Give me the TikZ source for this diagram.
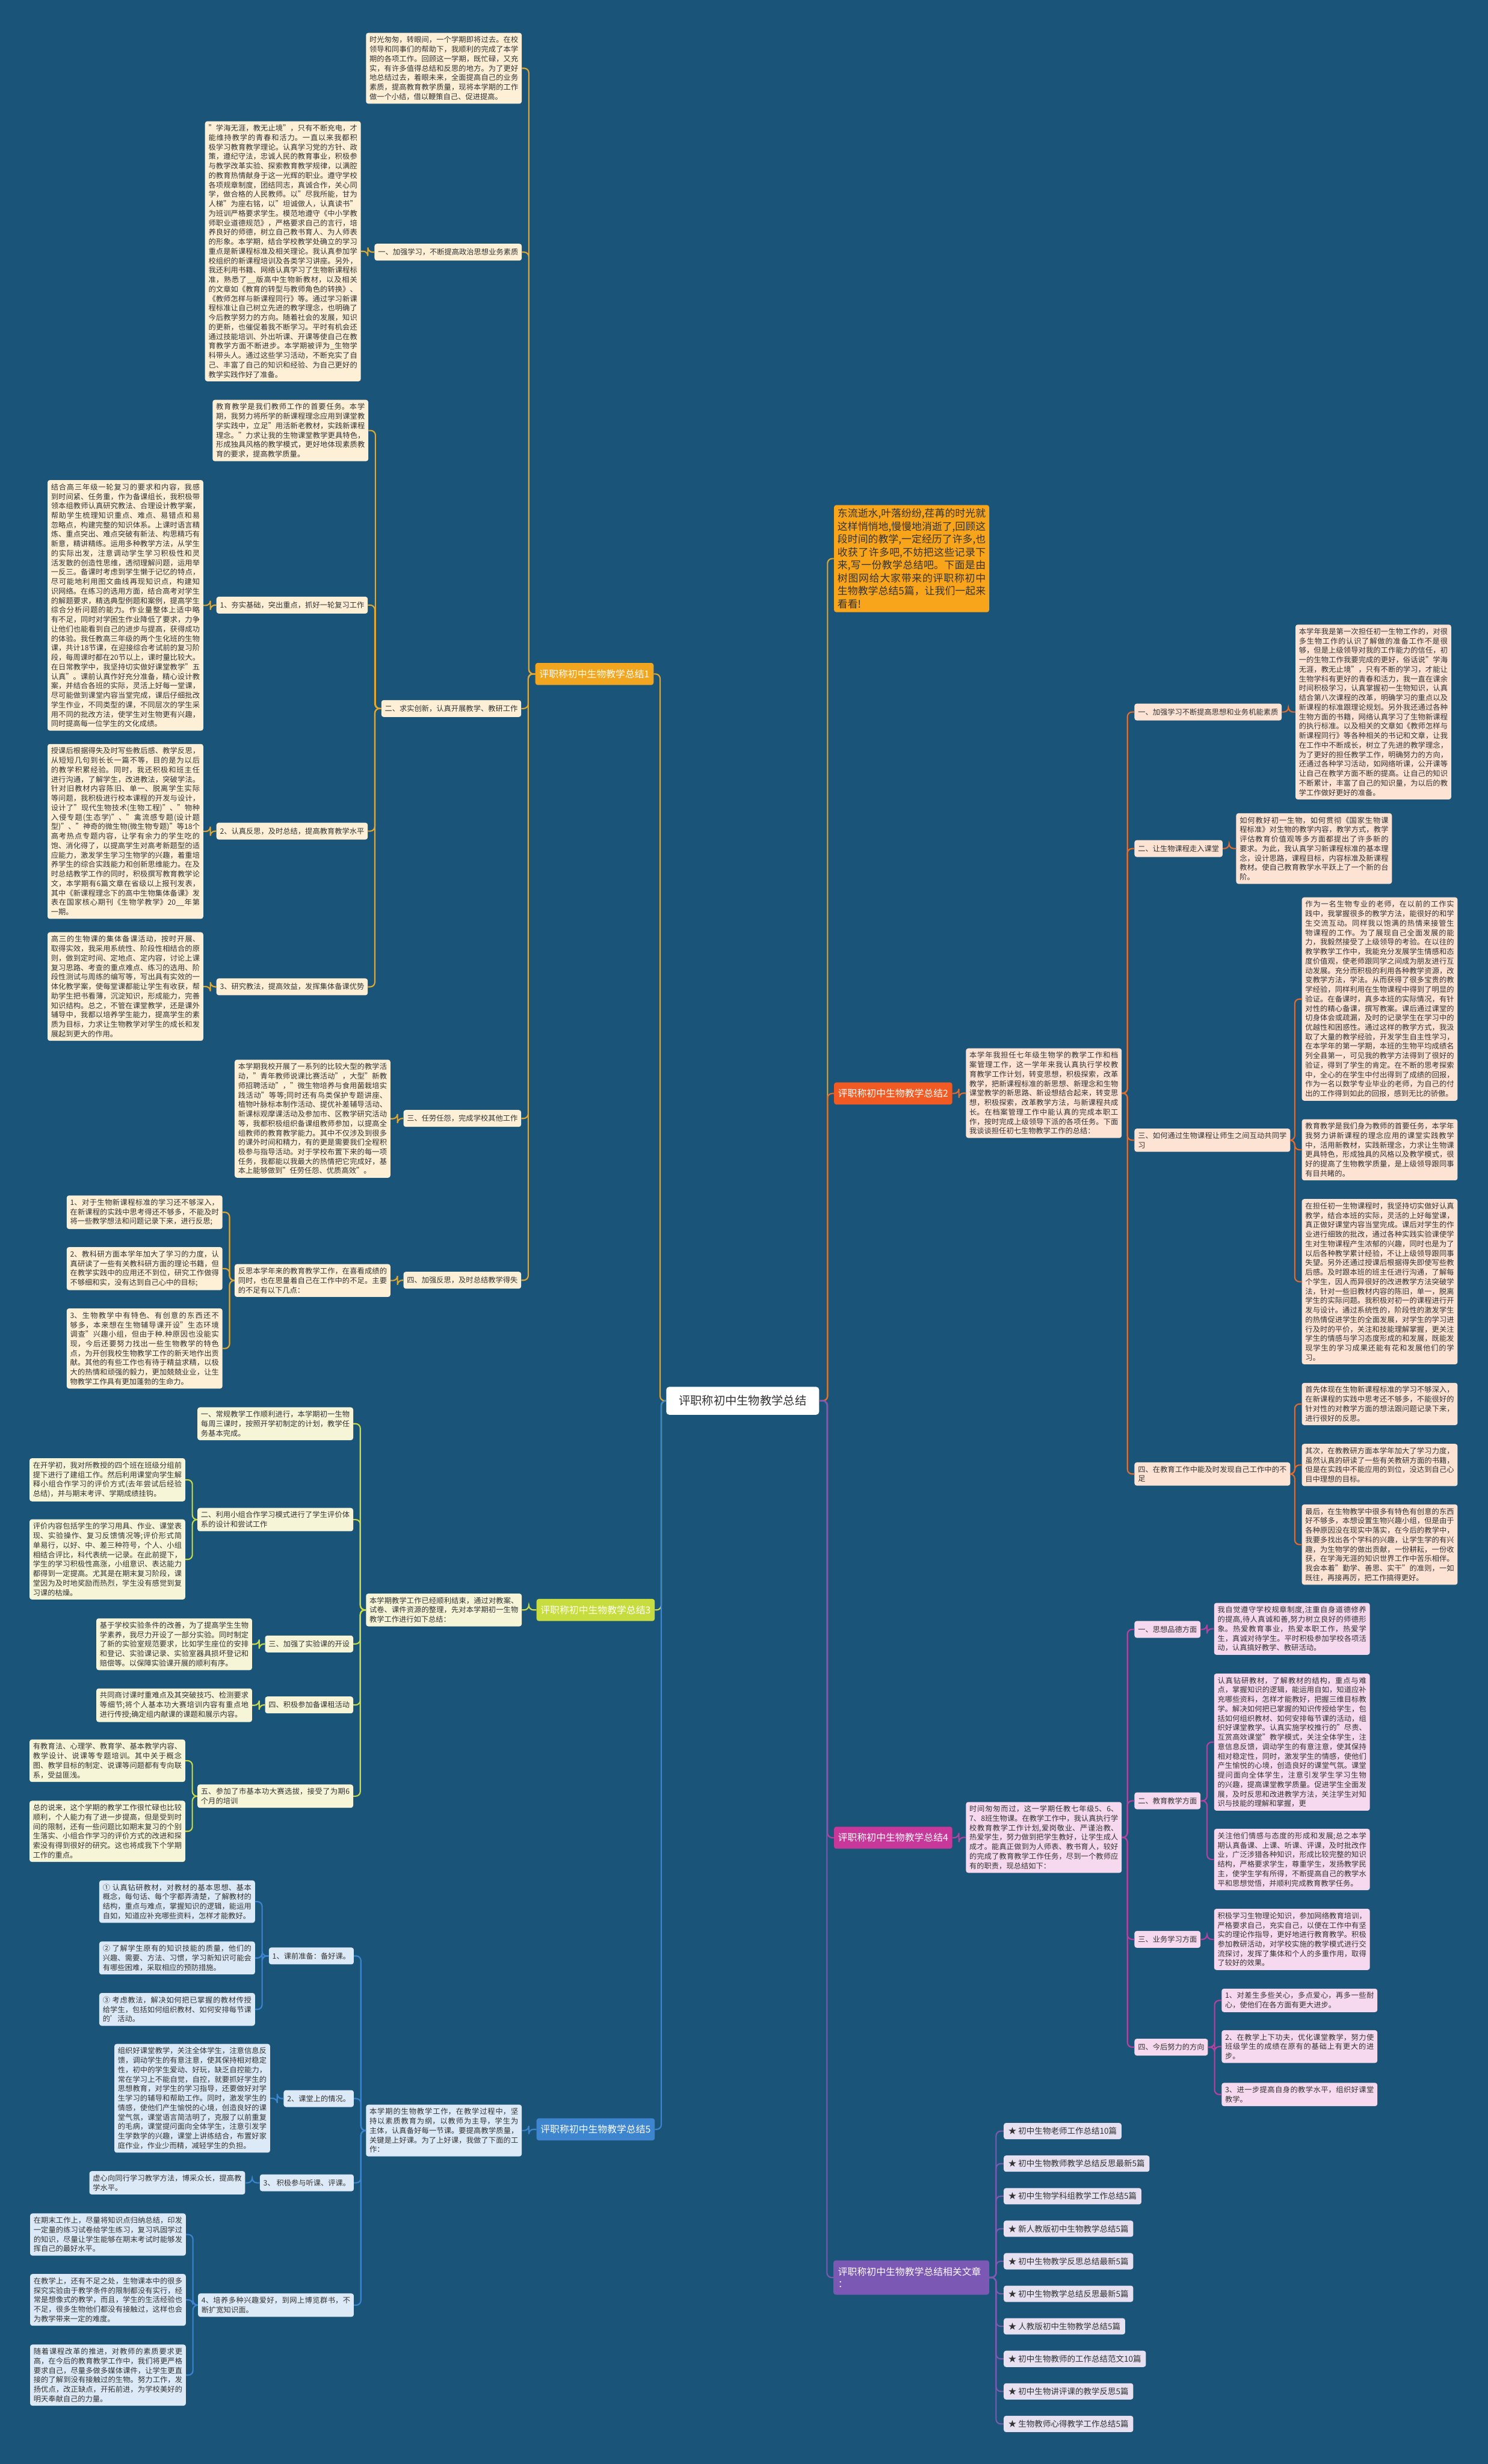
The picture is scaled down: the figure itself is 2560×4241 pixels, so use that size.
\documentclass[tikz,border=0pt]{standalone}
\usepackage{fontspec}
\setmainfont{Noto Sans CJK SC}
\XeTeXlinebreaklocale "zh"
\XeTeXlinebreakskip = 0pt plus 1pt
\XeTeXinterchartokenstate=1
\XeTeXinterchartoks 1 3 = {\hskip 0pt plus 1pt\relax}
\XeTeXinterchartoks 0 3 = {\hskip 0pt plus 1pt\relax}
\tolerance=9000
\emergencystretch=4pt
\usetikzlibrary{calc}

\definecolor{bgblue}{HTML}{1A5479}
\definecolor{ink}{HTML}{333333}
\definecolor{goldline}{HTML}{E2A72E}
\definecolor{goldfill}{HTML}{FDF0D6}
\definecolor{goldnode}{HTML}{F2A51F}
\definecolor{introfill}{HTML}{F8A51C}
\definecolor{orline}{HTML}{E46B2B}
\definecolor{orfill}{HTML}{FDE3D4}
\definecolor{ornode}{HTML}{F15A22}
\definecolor{limeline}{HTML}{C9DC45}
\definecolor{limefill}{HTML}{F6F5D8}
\definecolor{limenode}{HTML}{C7DD3F}
\definecolor{pinkline}{HTML}{B6419E}
\definecolor{pinkfill}{HTML}{F6D9EE}
\definecolor{pinknode}{HTML}{C8389A}
\definecolor{blueline}{HTML}{3D85CE}
\definecolor{bluefill}{HTML}{DCE9F6}
\definecolor{bluenode}{HTML}{3D85CE}
\definecolor{lilacline}{HTML}{7A5BB0}
\definecolor{lilacfill}{HTML}{E6E0F1}
\definecolor{lilacnode}{HTML}{7B58B3}

\newcommand{\cardfont}{\fontsize{12.7}{16.3}\selectfont}
\newcommand{\branchfont}{\fontsize{16.4}{21}\selectfont}
\newcommand{\introfont}{\fontsize{17.5}{22.3}\selectfont}
\newcommand{\rootfont}{\fontsize{20}{24}\selectfont}
\newcommand{\itemfont}{\fontsize{14}{17}\selectfont}

\tikzset{
  card/.style={rounded corners=4pt, inner xsep=6pt, inner ysep=6pt, align=left,
    font=\cardfont, text=ink, minimum height=29pt},
  wire/.style={line width=2.2pt, rounded corners=8pt},
  brnode/.style={rounded corners=4pt, font=\branchfont, text=white, inner xsep=7pt,
    minimum height=38pt, anchor=west},
  goldbox/.style={card, fill=goldfill, anchor=east},
  goldpara/.style={goldbox, text width=256pt, align=justify},
  goldwire/.style={wire, draw=goldline},
  limebox/.style={card, fill=limefill, anchor=east},
  limepara/.style={limebox, text width=256pt, align=justify},
  limewire/.style={wire, draw=limeline},
  bluebox/.style={card, fill=bluefill, anchor=east},
  bluepara/.style={bluebox, text width=256pt, align=justify},
  bluewire/.style={wire, draw=blueline},
  orbox/.style={card, fill=orfill, anchor=west},
  orpara/.style={orbox, text width=256pt, align=justify},
  orwire/.style={wire, draw=orline},
  pinkbox/.style={card, fill=pinkfill, anchor=west},
  pinkpara/.style={pinkbox, text width=256pt, align=justify},
  pinkwire/.style={wire, draw=pinkline},
  lilacbox/.style={card, fill=lilacfill, anchor=west, font=\itemfont, inner xsep=8pt, minimum height=28pt},
  lilacwire/.style={wire, draw=lilacline}
}

\begin{document}
\begin{tikzpicture}[x=1pt, y=-1pt]
\fill[bgblue] (0,0) rectangle (2560,4241);
\useasboundingbox (0,0) rectangle (2560,4241);

% root
\node[fill=white, rounded corners=5pt, font=\rootfont, text=ink, minimum width=263pt, minimum height=48pt] (root) at (1278,2411) {评职称初中生物教学总结};

% branch nodes
\node[brnode, fill=goldnode] (br1) at (921,1160) {评职称初中生物教学总结1};
\node[brnode, fill=limenode] (br3) at (923,2771) {评职称初中生物教学总结3};
\node[brnode, fill=bluenode] (br5) at (923,3665) {评职称初中生物教学总结5};
\node[brnode, fill=ornode] (br2) at (1435,1882) {评职称初中生物教学总结2};
\node[brnode, fill=pinknode] (br4) at (1435,3163) {评职称初中生物教学总结4};
\node[brnode, fill=lilacnode, text width=252pt, inner xsep=8pt, minimum height=59pt, align=left] (br6) at (1434,3920) {评职称初中生物教学总结相关文章\\：};
\node[card, fill=introfill, anchor=west, font=\introfont, text width=255pt, align=justify] (intro) at (1435,961.5) {东流逝水,叶落纷纷,荏苒的时光就这样悄悄地,慢慢地消逝了,回顾这段时间的教学,一定经历了许多,也收获了许多吧,不妨把这些记录下来,写一份教学总结吧。下面是由树图网给大家带来的评职称初中生物教学总结5篇，让我们一起来看看!};

% branch 1
\node[goldpara] (g0) at (898,117.5) {时光匆匆，转眼间，一个学期即将过去。在校领导和同事们的帮助下，我顺利的完成了本学期的各项工作。回顾这一学期，既忙碌，又充实，有许多值得总结和反思的地方。为了更好地总结过去，着眼未来，全面提高自己的业务素质，提高教育教学质量，现将本学期的工作做一个小结，借以鞭策自己、促进提高。};
\node[goldbox] (g1) at (898,434) {一、加强学习，不断提高政治思想业务素质};
\node[goldpara] (g1a) at (621,432.5) {"学海无涯，教无止境"，只有不断充电，才能维持教学的青春和活力。一直以来我都积极学习教育教学理论。认真学习党的方针、政策，遵纪守法，忠诚人民的教育事业，积极参与教学改革实验、探索教育教学规律，以满腔的教育热情献身于这一光辉的职业。遵守学校各项规章制度，团结同志，真诚合作，关心同学，做合格的人民教师。以"尽我所能，甘为人梯"为座右铭，以"坦诚做人，认真读书"为班训严格要求学生。模范地遵守《中小学教师职业道德规范》，严格要求自己的言行，培养良好的师德，树立自己教书育人、为人师表的形象。本学期，结合学校教学处确立的学习重点是新课程标准及相关理论。我认真参加学校组织的新课程培训及各类学习讲座。另外，我还利用书籍、网络认真学习了生物新课程标准，熟悉了\_\_版高中生物新教材，以及相关的文章如《教育的转型与教师角色的转换》、《教师怎样与新课程同行》等。通过学习新课程标准让自己树立先进的教学理念，也明确了今后教学努力的方向。随着社会的发展，知识的更新，也催促着我不断学习。平时有机会还通过技能培训、外出听课、开课等使自己在教育教学方面不断进步。本学期被评为\_生物学科带头人。通过这些学习活动，不断充实了自己、丰富了自己的知识和经验、为自己更好的教学实践作好了准备。};
\node[goldbox] (g2) at (897,1219.5) {二、求实创新，认真开展教学、教研工作};
\node[goldpara] (g2a) at (634,741) {教育教学是我们教师工作的首要任务。本学期，我努力将所学的新课程理念应用到课堂教学实践中，立足"用活新老教材，实践新课程理念。"力求让我的生物课堂教学更具特色，形成独具风格的教学模式，更好地体现素质教育的要求，提高教学质量。};
\node[goldbox] (g21) at (633,1041.5) {1、夯实基础，突出重点，抓好一轮复习工作};
\node[goldpara] (g21a) at (350,1042) {结合高三年级一轮复习的要求和内容，我感到时间紧、任务重，作为备课组长，我积极带领本组教师认真研究教法、合理设计教学案，帮助学生梳理知识重点、难点、易错点和易忽略点，构建完整的知识体系。上课时语言精炼、重点突出、难点突破有新法、构思精巧有新意，精讲精练。运用多种教学方法，从学生的实际出发，注意调动学生学习积极性和灵活发散的创造性思维，透彻理解问题，运用举一反三。备课时考虑到学生懒于记忆的特点，尽可能地利用图文曲线再现知识点，构建知识网络。在练习的选用方面，结合高考对学生的解题要求，精选典型例题和案例，提高学生综合分析问题的能力。作业量整体上适中略有不足，同时对学困生作业降低了要求，力争让他们也能看到自己的进步与提高，获得成功的体验。我任教高三年级的两个生化班的生物课，共计18节课，在迎接综合考试前的复习阶段，每周课时都在20节以上，课时量比较大。在日常教学中，我坚持切实做好课堂教学"五认真"。课前认真作好充分准备，精心设计教案，并结合各班的实际，灵活上好每一堂课，尽可能做到课堂内容当堂完成，课后仔细批改学生作业，不同类型的课，不同层次的学生采用不同的批改方法，使学生对生物更有兴趣，同时提高每一位学生的文化成绩。};
\node[goldbox] (g22) at (633,1430.5) {2、认真反思，及时总结，提高教育教学水平};
\node[goldpara] (g22a) at (350,1431) {授课后根据得失及时写些教后感、教学反思，从短短几句到长长一篇不等，目的是为以后的教学积累经验。同时，我还积极和班主任进行沟通，了解学生，改进教法，突破学法。针对旧教材内容陈旧、单一、脱离学生实际等问题，我积极进行校本课程的开发与设计，设计了"现代生物技术(生物工程)"、"物种入侵专题(生态学)"、"禽流感专题(设计题型)"、"神奇的微生物(微生物专题)"等18个高考热点专题内容，让学有余力的学生吃的饱、消化得了，以提高学生对高考新题型的适应能力，激发学生学习生物学的兴趣，着重培养学生的综合实践能力和创新思维能力。在及时总结教学工作的同时，积极撰写教育教学论文，本学期有6篇文章在省级以上报刊发表，其中《新课程理念下的高中生物集体备课》发表在国家核心期刊《生物学教学》20\_\_年第一期。};
\node[goldbox] (g23) at (633,1698.5) {3、研究教法，提高效益，发挥集体备课优势};
\node[goldpara] (g23a) at (350,1698) {高三的生物课的集体备课活动，按时开展、取得实效，我采用系统性、阶段性相结合的原则，做到定时间、定地点、定内容，讨论上课复习思路、考查的重点难点、练习的选用、阶段性测试与周练的编写等，写出具有实效的一体化教学案，使每堂课都能让学生有收获，帮助学生把书看薄，沉淀知识，形成能力，完善知识结构。总之，不管在课堂教学，还是课外辅导中，我都以培养学生能力，提高学生的素质为目标，力求让生物教学对学生的成长和发展起到更大的作用。};
\node[goldbox] (g3) at (897,1925) {三、任劳任怨，完成学校其他工作};
\node[goldpara] (g3a) at (672,1925.5) {本学期我校开展了一系列的比较大型的教学活动，"青年教师说课比赛活动"，大型"新教师招聘活动"，"微生物培养与食用菌栽培实践活动"等等;同时还有鸟类保护专题讲座、植物叶脉标本制作活动、提优补差辅导活动、新课标观摩课活动及参加市、区教学研究活动等，我都积极组织备课组教师参加，以提高全组教师的教育教学能力。其中不仅涉及到很多的课外时间和精力，有的更是需要我们全程积极参与指导活动。对于学校布置下来的每一项任务，我都能以我最大的热情把它完成好，基本上能够做到"任劳任怨、优质高效"。};
\node[goldbox] (g4) at (897,2203.5) {四、加强反思，及时总结教学得失};
\node[goldpara] (g4a) at (672,2204) {反思本学年来的教育教学工作，在喜看成绩的同时，也在思量着自己在工作中的不足。主要的不足有以下几点：};
\node[goldpara] (g4a1) at (383,2086.5) {1、对于生物新课程标准的学习还不够深入，在新课程的实践中思考得还不够多，不能及时将一些教学想法和问题记录下来，进行反思;};
\node[goldpara] (g4a2) at (383,2183.5) {2、教科研方面本学年加大了学习的力度，认真研读了一些有关教科研方面的理论书籍，但在教学实践中的应用还不到位，研究工作做得不够细和实，没有达到自己心中的目标;};
\node[goldpara] (g4a3) at (383,2321) {3、生物教学中有特色、有创意的东西还不够多，本来想在生物辅导课开设"生态环境调查"兴趣小组，但由于种.种原因也没能实现，今后还要努力找出一些生物教学的特色点，为开创我校生物教学工作的新天地作出贡献。其他的有些工作也有待于精益求精，以极大的热情和顽强的毅力，更加兢兢业业，让生物教学工作具有更加蓬勃的生命力。};

% branch 3
\node[limepara] (t0) at (898,2771) {本学期教学工作已经顺利结束，通过对教案、试卷、课件资源的整理，先对本学期初一生物教学工作进行如下总结：};
\node[limepara] (t1) at (608,2450.5) {一、常规教学工作顺利进行，本学期初一生物每周三课时，按照开学初制定的计划，教学任务基本完成。};
\node[limepara] (t2) at (608,2615.5) {二、利用小组合作学习模式进行了学生评价体系的设计和尝试工作};
\node[limepara] (t2a) at (319,2547) {在开学初，我对所教授的四个班在班级分组前提下进行了建组工作。然后利用课堂向学生解释小组合作学习的评价方式(去年尝试后经验总结)，并与期末考评、学期成绩挂钩。};
\node[limepara] (t2b) at (319,2684) {评价内容包括学生的学习用具、作业、课堂表现、实验操作、复习反馈情况等;评价形式简单易行，以好、中、差三种符号，个人、小组相结合评比，科代表统一记录。在此前提下，学生的学习积极性高涨，小组意识、表达能力都得到一定提高。尤其是在期末复习阶段，课堂因为及时地奖励而热烈，学生没有感觉到复习课的枯燥。};
\node[limebox] (t3) at (608,2829.5) {三、加强了实验课的开设};
\node[limepara] (t3a) at (434,2830) {基于学校实验条件的改善，为了提高学生生物学素养，我尽力开设了一部分实验。同时制定了新的实验室规范要求，比如学生座位的安排和登记、实验课记录、实验室器具损坏登记和赔偿等。以保障实验课开展的顺利有序。};
\node[limebox] (t4) at (608,2934.5) {四、积极参加备课租活动};
\node[limepara] (t4a) at (434,2935) {共同商讨课时重难点及其突破技巧、检测要求等细节;将个人基本功大赛培训内容有重点地进行传授;确定组内献课的课题和展示内容。};
\node[limepara] (t5) at (608,3091.5) {五、参加了市基本功大赛选拔，接受了为期6个月的培训};
\node[limepara] (t5a) at (319,3030.5) {有教育法、心理学、教育学、基本教学内容、教学设计、说课等专题培训。其中关于概念图、教学目标的制定、说课等问题都有专向联系，受益匪浅。};
\node[limepara] (t5b) at (319,3152) {总的说来，这个学期的教学工作很忙碌也比较顺利，个人能力有了进一步提高，但是受到时间的限制，还有一些问题比如期末复习的个别生落实、小组合作学习的评价方式的改进和探索没有得到很好的研究。这也将成我下个学期工作的重点。};

% branch 5
\node[bluepara] (u0) at (898,3667) {本学期的生物教学工作，在教学过程中，坚持以素质教育为纲，以教师为主导，学生为主体，认真备好每一节课。要提高教学质量，关键是上好课。为了上好课，我做了下面的工作：};
\node[bluebox] (u1) at (609,3366.5) {1、课前准备：备好课。};
\node[bluepara] (u1a) at (439,3273) {① 认真钻研教材，对教材的基本思想、基本概念，每句话、每个字都弄清楚，了解教材的结构，重点与难点，掌握知识的逻辑，能运用自如，知道应补充哪些资料，怎样才能教好。};
\node[bluepara] (u1b) at (439,3370) {② 了解学生原有的知识技能的质量，他们的兴趣、需要、方法、习惯，学习新知识可能会有哪些困难，采取相应的预防措施。};
\node[bluepara] (u1c) at (439,3458.5) {③ 考虑教法，解决如何把已掌握的教材传授给学生，包括如何组织教材、如何安排每节课的'活动。};
\node[bluebox] (u2) at (609,3612) {2、课堂上的情况。};
\node[bluepara] (u2a) at (465,3611.5) {组织好课堂教学，关注全体学生，注意信息反馈，调动学生的有意注意，使其保持相对稳定性，初中的学生爱动、好玩，缺乏自控能力，常在学习上不能自觉，自控，就要抓好学生的思想教育，对学生的学习指导，还要做好对学生学习的辅导和帮助工作。同时，激发学生的情感，使他们产生愉悦的心境，创造良好的课堂气氛，课堂语言简洁明了，克服了以前重复的毛病，课堂提问面向全体学生，注意引发学生学数学的兴趣，课堂上讲练结合，布置好家庭作业，作业少而精，减轻学生的负担。};
\node[bluebox] (u3) at (609,3757) {3、 积极参与听课、评课。};
\node[bluepara] (u3a) at (422,3757) {虚心向同行学习教学方法，博采众长，提高教学水平。};
\node[bluepara] (u4) at (609,3967.5) {4、培养多种兴趣爱好，到网上博览群书，不断扩宽知识面。};
\node[bluepara] (u4a) at (320,3846) {在期末工作上，尽量将知识点归纳总结，印发一定量的练习试卷给学生练习，复习巩固学过的知识，尽量让学生能够在期末考试时能够发挥自己的最好水平。};
\node[bluepara] (u4b) at (320,3958.5) {在教学上，还有不足之处，生物课本中的很多探究实验由于教学条件的限制都没有实行，经常是想像式的教学，而且，学生的生活经验也不足，很多生物他们都没有接触过，这样也会为教学带来一定的难度。};
\node[bluepara] (u4c) at (320,4088) {随着课程改革的推进，对教师的素质要求更高，在今后的教育教学工作中，我们将更严格要求自己，尽量多做多媒体课件，让学生更直接的了解到没有接触过的生物。努力工作，发扬优点，改正缺点，开拓前进，为学校美好的明天奉献自己的力量。};

% branch 2
\node[orpara] (o0) at (1662,1881.5) {本学年我担任七年级生物学的教学工作和档案管理工作，这一学年来我认真执行学校教育教学工作计划，转变思想，积极探索，改革教学，把新课程标准的新思想、新理念和生物课堂教学的新思路、新设想结合起来，转变思想，积极探索，改革教学方法，与新课程共成长。在档案管理工作中能认真的完成本职工作，按时完成上级领导下派的各项任务。下面我谈谈担任初七生物教学工作的总结：};
\node[orbox] (o1) at (1952,1225.5) {一、加强学习不断提高思想和业务机能素质};
\node[orpara] (o1a) at (2229,1225.5) {本学年我是第一次担任初一生物工作的，对很多生物工作的认识了解做的准备工作不是很够，但是上级领导对我的工作能力的信任，初一的生物工作我要完成的更好，俗话说"学海无涯，教无止境"，只有不断的学习，才能让生物学科有更好的青春和活力，我一直在课余时间积极学习，认真掌握初一生物知识，认真结合第八次课程的改革，明确学习的重点以及新课程的标准跟理论规划。另外我还通过各种生物方面的书籍，网络认真学习了生物新课程的执行标准。以及相关的文章如《教师怎样与新课程同行》等各种相关的书记和文章，让我在工作中不断成长，树立了先进的教学理念，为了更好的担任教学工作，明确努力的方向，还通过各种学习活动，如网络听课，公开课等让自己在教学方面不断的提高。让自己的知识不断累计，丰富了自己的知识量，为以后的教学工作做好更好的准备。};
\node[orbox] (o2) at (1952,1460.5) {二、让生物课程走入课堂};
\node[orpara] (o2a) at (2127,1460.5) {如何教好初一生物，如何贯彻《国家生物课程标准》对生物的教学内容，教学方式，教学评估教育价值观等多方面都提出了许多新的要求。为此，我认真学习新课程标准的基本理念，设计思路，课程目标，内容标准及新课程教材。使自己教育教学水平跃上了一个新的台阶。};
\node[orpara] (o3) at (1952,1962.5) {三、如何通过生物课程让师生之间互动共同学习};
\node[orpara] (o3a) at (2240,1719.5) {作为一名生物专业的老师，在以前的工作实践中，我掌握很多的教学方法，能很好的和学生交流互动。同样我以饱满的热情来接管生物课程的工作。为了展现自己全面发展的能力，我毅然接受了上级领导的考验。在以往的教学教学工作中，我能充分发展学生情感和态度价值观，使老师跟同学之间成为朋友进行互动发展。充分而积极的利用各种教学资源，改变教学方法，学法。从而获得了很多宝贵的教学经验，同样利用在生物课程中得到了明显的验证。在备课时，真多本班的实际情况，有针对性的精心备课，撰写教案。课后通过课堂的切身体会或疏漏，及时的记录学生在学习中的优越性和困惑性。通过这样的教学方式，我汲取了大量的教学经验，开发学生自主性学习，在本学年的第一学期，本班的生物平均成绩名列全县第一，可见我的教学方法得到了很好的验证，得到了学生的肯定。在不断的思考探索中，全心的在学生中付出得到了成绩的回报，作为一名以数学专业毕业的老师，为自己的付出的工作得到如此的回报，感到无比的骄傲。};
\node[orpara] (o3b) at (2240,1979) {教育教学是我们身为教师的首要任务，本学年我努力讲新课程的理念应用的课堂实践教学中，活用新教材，实践新理念，力求让生物课更具特色，形成独具的风格以及教学模式，很好的提高了生物教学质量，是上级领导跟同事有目共睹的。};
\node[orpara] (o3c) at (2240,2206) {在担任初一生物课程时，我坚持切实做好认真教学，结合本班的实际，灵活的上好每堂课，真正做好课堂内容当堂完成。课后对学生的作业进行细致的批改，通过各种实践实验课使学生对生物课程产生浓郁的兴趣，同时也是为了以后各种教学累计经验，不让上级领导跟同事失望。另外还通过授课后根据得失即使写些教后感。及时跟本班的班主任进行沟通，了解每个学生，因人而异很好的改进教学方法突破学法，针对一些旧教材内容的陈旧，单一，脱离学生的实际问题。我积极对初一的课程进行开发与设计。通过系统性的，阶段性的激发学生的热情促进学生的全面发展，对学生的学习进行及时的平价，关注和技能理解掌握，更关注学生的情感与学习态度形成的和发展，既能发现学生的学习成果还能有花和发展他们的学习。};
\node[orpara] (o4) at (1952,2537) {四、在教育工作中能及时发现自己工作中的不足};
\node[orpara] (o4a) at (2240,2416.5) {首先体现在生物新课程标准的学习不够深入，在新课程的实践中思考还不够多，不能很好的针对性的对教学方面的想法跟问题记录下来，进行很好的反思。};
\node[orpara] (o4b) at (2240,2521.5) {其次，在教教研方面本学年加大了学习力度，虽然认真的研读了一些有关教研方面的书籍，但是在实践中不能应用的到位，没达到自己心目中理想的目标。};
\node[orpara] (o4c) at (2240,2658.5) {最后，在生物教学中很多有特色有创意的东西好不够多，本想设置生物兴趣小组，但是由于各种原因没在现实中落实，在今后的教学中，我要多找出各个学科的兴趣，让学生学的有兴趣，为生物学的做出贡献，一份耕耘，一份收获，在学海无涯的知识世界工作中苦乐相伴。我会本着"勤学、善思、实干"的准则，一如既往，再接再厉，把工作搞得更好。};

% branch 4
\node[pinkpara] (m0) at (1662,3162.5) {时间匆匆而过，这一学期任教七年级5、6、7、8班生物课。在教学工作中，我认真执行学校教育教学工作计划,爱岗敬业、严谨治教、热爱学生，努力做到把学生教好，让学生成人成才。能真正做到为人师表、教书育人，较好的完成了教育教学工作任务，尽到一个教师应有的职责，现总结如下：};
\node[pinkbox] (m1) at (1952,2804.5) {一、思想品德方面};
\node[pinkpara] (m1a) at (2089,2803.5) {我自觉遵守学校规章制度,注重自身道德修养的提高,待人真诚和善,努力树立良好的师德形象。热爱教育事业，热爱本职工作，热爱学生，真诚对待学生。平时积极参加学校各项活动，认真搞好教学、教研活动。};
\node[pinkbox] (m2) at (1952,3099.5) {二、教育教学方面};
\node[pinkpara] (m2a) at (2089,2998.5) {认真钻研教材，了解教材的结构，重点与难点，掌握知识的逻辑，能运用自如，知道应补充哪些资料，怎样才能教好，把握三维目标教学。解决如何把已掌握的知识传授给学生，包括如何组织教材、如何安排每节课的活动，组织好课堂教学。认真实施学校推行的"尽责、互赏高效课堂"教学模式，关注全体学生，注意信息反馈，调动学生的有意注意，使其保持相对稳定性，同时，激发学生的情感，使他们产生愉悦的心境，创造良好的课堂气氛。课堂提问面向全体学生，注意引发学生学习生物的兴趣，提高课堂教学质量。促进学生全面发展，及时反思和改进教学方法，关注学生对知识与技能的理解和掌握，更};
\node[pinkpara] (m2b) at (2089,3200.5) {关注他们情感与态度的形成和发展;总之本学期认真备课、上课、听课、评课，及时批改作业，广泛涉猎各种知识，形成比较完整的知识结构，严格要求学生，尊重学生，发扬教学民主，使学生学有所得，不断提高自己的教学水平和思想觉悟，并顺利完成教育教学任务。};
\node[pinkbox] (m3) at (1952,3338) {三、业务学习方面};
\node[pinkpara] (m3a) at (2089,3338) {积极学习生物理论知识，参加网络教育培训，严格要求自己，充实自己，以便在工作中有坚实的理论作指导，更好地进行教育教学。积极参加教研活动，对学校实施的教学模式进行交流探讨，发挥了集体和个人的多重作用，取得了较好的效果。};
\node[pinkbox] (m4) at (1952,3523.5) {四、今后努力的方向};
\node[pinkpara] (m4a) at (2102,3443) {1、对差生多些关心，多点爱心，再多一些耐心，使他们在各方面有更大进步。};
\node[pinkpara] (m4b) at (2102,3522.5) {2、在教学上下功夫，优化课堂教学，努力使班级学生的成绩在原有的基础上有更大的进步。};
\node[pinkpara] (m4c) at (2102,3605) {3、进一步提高自身的教学水平，组织好课堂教学。};

% branch 6
\foreach \t [count=\i] in {初中生物老师工作总结10篇, 初中生物教师教学总结反思最新5篇, 初中生物学科组教学工作总结5篇, 新人教版初中生物教学总结5篇, 初中生物教学反思总结最新5篇, 初中生物教学总结反思最新5篇, 人教版初中生物教学总结5篇, 初中生物教师的工作总结范文10篇, 初中生物讲评课的教学反思5篇, 生物教师心得教学工作总结5篇}
  \node[lilacbox] (p\i) at (1727,3612+56*\i) {★ \t};

% connectors
\draw[goldwire] (br1.east) -- ++(11,0) |- (root.west);
\draw[limewire] (br3.east) -- ++(11,0) |- (root.west);
\draw[bluewire] (br5.east) -- ++(11,0) |- (root.west);
\draw[goldwire] (intro.west) -- ++(-11,0) |- (root.east);
\draw[orwire] (br2.west) -- ++(-11,0) |- (root.east);
\draw[pinkwire] (br4.west) -- ++(-11,0) |- (root.east);
\draw[lilacwire] (br6.west) -- ++(-11,0) |- (root.east);

\foreach \c in {g0,g1,g2,g3,g4} \draw[goldwire] (\c.east) -- ++(12,0) |- (br1.west);
\draw[goldwire] (g1a.east) -- ++(12,0) |- (g1.west);
\foreach \c in {g2a,g21,g22,g23} \draw[goldwire] (\c.east) -- ++(12,0) |- (g2.west);
\draw[goldwire] (g21a.east) -- ++(12,0) |- (g21.west);
\draw[goldwire] (g22a.east) -- ++(12,0) |- (g22.west);
\draw[goldwire] (g23a.east) -- ++(12,0) |- (g23.west);
\draw[goldwire] (g3a.east) -- ++(12,0) |- (g3.west);
\draw[goldwire] (g4a.east) -- ++(12,0) |- (g4.west);
\foreach \c in {g4a1,g4a2,g4a3} \draw[goldwire] (\c.east) -- ++(12,0) |- (g4a.west);

\draw[limewire] (t0.east) -- ++(12,0) |- (br3.west);
\foreach \c in {t1,t2,t3,t4,t5} \draw[limewire] (\c.east) -- ++(12,0) |- (t0.west);
\foreach \c in {t2a,t2b} \draw[limewire] (\c.east) -- ++(12,0) |- (t2.west);
\draw[limewire] (t3a.east) -- ++(12,0) |- (t3.west);
\draw[limewire] (t4a.east) -- ++(12,0) |- (t4.west);
\foreach \c in {t5a,t5b} \draw[limewire] (\c.east) -- ++(12,0) |- (t5.west);

\draw[bluewire] (u0.east) -- ++(12,0) |- (br5.west);
\foreach \c in {u1,u2,u3,u4} \draw[bluewire] (\c.east) -- ++(12,0) |- (u0.west);
\foreach \c in {u1a,u1b,u1c} \draw[bluewire] (\c.east) -- ++(12,0) |- (u1.west);
\draw[bluewire] (u2a.east) -- ++(12,0) |- (u2.west);
\draw[bluewire] (u3a.east) -- ++(12,0) |- (u3.west);
\foreach \c in {u4a,u4b,u4c} \draw[bluewire] (\c.east) -- ++(12,0) |- (u4.west);

\draw[orwire] (o0.west) -- ++(-12,0) |- (br2.east);
\foreach \c in {o1,o2,o3,o4} \draw[orwire] (\c.west) -- ++(-12,0) |- (o0.east);
\draw[orwire] (o1a.west) -- ++(-12,0) |- (o1.east);
\draw[orwire] (o2a.west) -- ++(-12,0) |- (o2.east);
\foreach \c in {o3a,o3b,o3c} \draw[orwire] (\c.west) -- ++(-12,0) |- (o3.east);
\foreach \c in {o4a,o4b,o4c} \draw[orwire] (\c.west) -- ++(-12,0) |- (o4.east);

\draw[pinkwire] (m0.west) -- ++(-12,0) |- (br4.east);
\foreach \c in {m1,m2,m3,m4} \draw[pinkwire] (\c.west) -- ++(-12,0) |- (m0.east);
\draw[pinkwire] (m1a.west) -- ++(-12,0) |- (m1.east);
\foreach \c in {m2a,m2b} \draw[pinkwire] (\c.west) -- ++(-12,0) |- (m2.east);
\draw[pinkwire] (m3a.west) -- ++(-12,0) |- (m3.east);
\foreach \c in {m4a,m4b,m4c} \draw[pinkwire] (\c.west) -- ++(-12,0) |- (m4.east);

\foreach \i in {1,...,10} \draw[lilacwire] (p\i.west) -- ++(-13,0) |- (br6.east);
\end{tikzpicture}
\end{document}
